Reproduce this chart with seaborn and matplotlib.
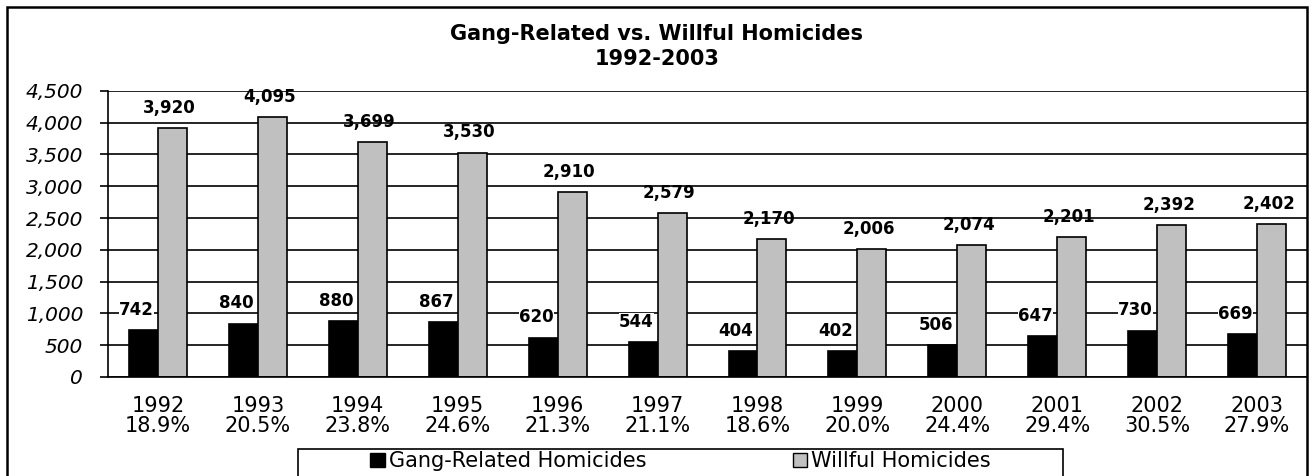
import pandas as pd
import numpy as np
import seaborn as sns
import matplotlib.pyplot as plt
from matplotlib.patches import Rectangle, Patch

# Data
years = ['1992', '1993', '1994', '1995', '1996', '1997',
         '1998', '1999', '2000', '2001', '2002', '2003']
pct_gang = ['18.9%', '20.5%', '23.8%', '24.6%', '21.3%', '21.1%',
            '18.6%', '20.0%', '24.4%', '29.4%', '30.5%', '27.9%']
gang_related = [742, 840, 880, 867, 620, 544, 404, 402, 506, 647, 730, 669]
willful = [3920, 4095, 3699, 3530, 2910, 2579, 2170, 2006, 2074, 2201, 2392, 2402]

series_names = ['Gang-Related Homicides', 'Willful Homicides']
colors = ['#000000', '#c0c0c0']

df = pd.DataFrame({
    'year': years * 2,
    'value': gang_related + willful,
    'series': [series_names[0]] * len(years) + [series_names[1]] * len(years),
})

sns.set_style('white')
plt.rcParams['font.family'] = ['DejaVu Sans']
plt.rcParams['text.color'] = 'black'

fig = plt.figure(figsize=(13.14, 4.76), dpi=100)
ax = fig.add_axes([0.0822, 0.208, 0.9125, 0.601])

sns.barplot(data=df, x='year', y='value', hue='series', palette=colors,
            width=0.58, edgecolor='black', linewidth=1.2, ax=ax, legend=False,
            saturation=1)

# value labels above bars (slightly left of centre, like the original)
for k, container in enumerate(ax.containers):
    for bar, v in zip(container, container.datavalues):
        x = bar.get_x() + bar.get_width() / 2
        dx = -5 if k == 0 else -2
        t = ax.annotate(f'{int(v):,}', (x, v), xytext=(dx, 8), textcoords='offset points',
                        ha='center', va='bottom', fontsize=12, fontweight='bold',
                        color='black')
        if k == 0:
            t.set_bbox(dict(facecolor='white', edgecolor='none', pad=0))

ax.set_ylim(0, 4500)
ax.set_yticks(np.arange(0, 4501, 500))
ax.set_yticklabels([f'{v:,}' for v in range(0, 4501, 500)],
                   fontsize=14.5, style='italic', color='black')
ax.yaxis.grid(True, color='black', linewidth=1.2)
ax.set_axisbelow(True)

ax.set_xlim(-0.5, len(years) - 0.5)
ax.set_xticks(range(len(years)))
ax.set_xticklabels([f'{y}\n{p}' for y, p in zip(years, pct_gang)], fontsize=15,
                   linespacing=1.0, color='black')
ax.set_xticks(np.arange(-0.5, len(years), 1.0), minor=True)
ax.tick_params(axis='x', which='major', length=0, pad=14)
ax.tick_params(axis='x', which='minor', length=4.5, width=1.2, color='black', direction='out')
ax.tick_params(axis='y', length=6, width=1.2, color='black', direction='out', left=True, pad=12)
ax.set_xlabel('')
ax.set_ylabel('')

for side in ['left', 'bottom']:
    ax.spines[side].set_color('black')
    ax.spines[side].set_linewidth(1.2)
ax.spines['right'].set_visible(False)
ax.spines['top'].set_visible(False)

fig.text(0.5, 0.902, 'Gang-Related vs. Willful Homicides\n1992-2003',
         ha='center', va='center', fontsize=15, fontweight='bold', linespacing=1.3,
         color='black')

handles = [Patch(facecolor=colors[i], edgecolor='black', label=series_names[i])
           for i in range(2)]
leg = fig.legend(handles=handles, loc='upper center', bbox_to_anchor=(0.518, 0.057),
                 ncol=2, frameon=False, fontsize=15, handlelength=0.7, handleheight=0.7,
                 handletextpad=0.2, columnspacing=7.0, borderpad=0.12, borderaxespad=0,
                 fancybox=False)
for txt in leg.get_texts():
    txt.set_color('black')

# legend box with wide side padding, like the Excel original
fig.canvas.draw()
bb = leg.get_window_extent().transformed(fig.transFigure.inverted())
side_pad = 70 / 1314
fig.patches.append(Rectangle((bb.x0 - side_pad, bb.y0 - 0.01), bb.width + 2 * side_pad,
                             bb.height + 0.01, transform=fig.transFigure,
                             fill=False, edgecolor='black', linewidth=1.2))

# outer chart border (bottom edge falls outside the picture)
fig.patches.append(Rectangle((0.0055, -0.02), 0.9895, 1.005, transform=fig.transFigure,
                             fill=False, edgecolor='black', linewidth=1.8))

fig.savefig('out.png', dpi=100)
